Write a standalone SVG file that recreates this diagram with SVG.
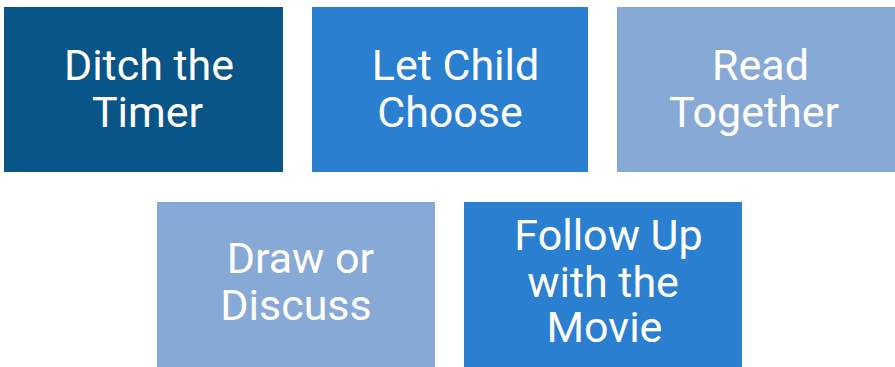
<svg xmlns="http://www.w3.org/2000/svg" width="895" height="367" viewBox="0 0 895 367">
<style>
.lbl{font-family:Roboto,"Liberation Sans",sans-serif;font-size:43px;fill:#ffffff;text-anchor:middle}
.dark{fill:#0a5587}
.mid{fill:#2a7fd1}
.light{fill:#87a9d6}
</style>
<rect width="895" height="367" fill="#ffffff"/>
<g id="connectors"></g>
<g id="node-ditch">
<rect class="dark" x="4" y="7" width="279" height="165"/>
<text class="lbl"><tspan x="149" y="80">Ditch the</tspan><tspan x="147.5" y="127">Timer</tspan></text>
</g>
<g id="node-choose">
<rect class="mid" x="312" y="7" width="276" height="165"/>
<text class="lbl"><tspan x="455.5" y="80">Let Child</tspan><tspan x="450" y="127">Choose</tspan></text>
</g>
<g id="node-read">
<rect class="light" x="617" y="7" width="278" height="165"/>
<text class="lbl"><tspan x="760.5" y="80">Read</tspan><tspan x="754" y="127">Together</tspan></text>
</g>
<g id="node-draw">
<rect class="light" x="157" y="202" width="278" height="165"/>
<text class="lbl"><tspan x="300.5" y="273">Draw or</tspan><tspan x="296" y="320">Discuss</tspan></text>
</g>
<g id="node-follow">
<rect class="mid" x="464" y="202" width="278" height="165"/>
<text class="lbl"><tspan x="608.5" y="250">Follow Up</tspan><tspan x="603" y="297">with the</tspan><tspan x="604.5" y="342">Movie</tspan></text>
</g>
</svg>
